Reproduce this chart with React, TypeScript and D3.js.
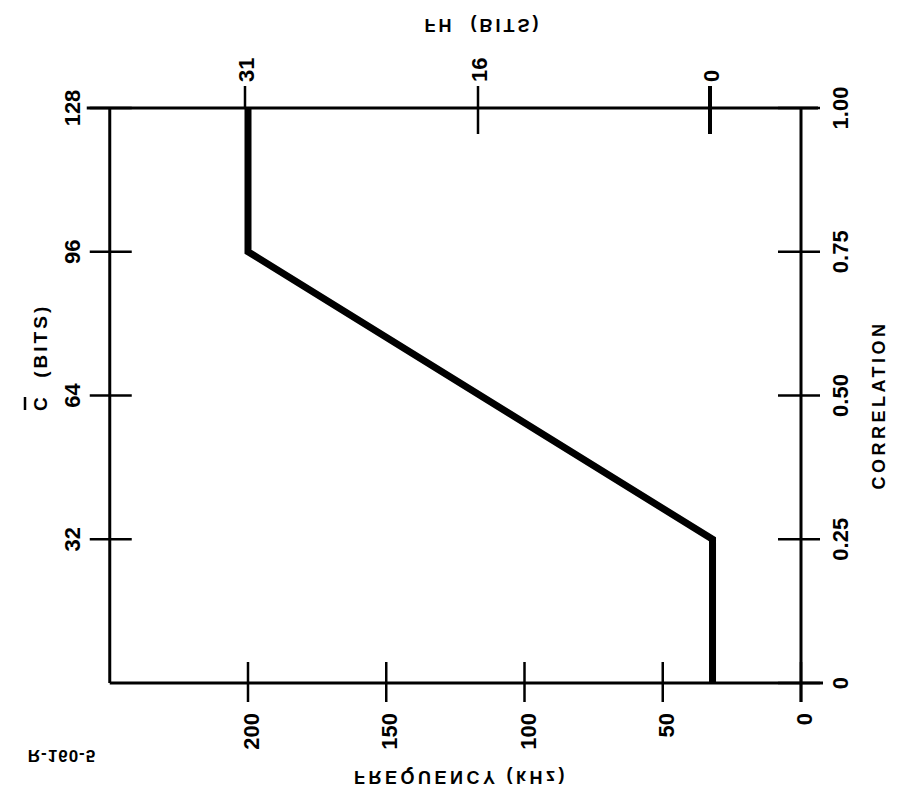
import React, { useEffect, useRef } from "react";
import * as d3 from "d3";

// chart values
const curveCorrelation = [0, 0.25, 0.75, 1.0];
const curveFrequency = [32, 32, 200, 200];

const freqTicks = [0, 50, 100, 150, 200];
const corrTicks = [0, 0.25, 0.5, 0.75, 1.0];
const corrTickLabels = ["0", "0.25", "0.50", "0.75", "1.00"];
const cBitTicks = [32, 64, 96, 128];
const fhTicks = [0, 16, 31];

const FONT = "'Liberation Sans', Arial, Helvetica, sans-serif";

const drawChart = (svgEl: SVGSVGElement) => {
  const svg = d3.select(svgEl);
  svg.selectAll("*").remove();

  // frequency runs right-to-left, correlation bottom-to-top
  const xFreq = d3.scaleLinear().domain([0, 200]).range([801, 248]);
  const yCorr = d3.scaleLinear().domain([0, 1]).range([683, 108]);
  const yBits = d3.scaleLinear().domain([0, 128]).range([683, 108]);
  const xFh = d3.scaleLinear().domain([0, 16, 31]).range([710, 478, 245]);

  const left = xFreq(250);
  const right = xFreq(0);
  const top = yCorr(1);
  const bottom = yCorr(0);

  const g = svg.append("g").attr("stroke", "#000").attr("fill", "none");

  // frame
  g.append("line").attr("x1", left).attr("x2", left).attr("y1", top).attr("y2", bottom).attr("stroke-width", 3);
  g.append("line").attr("x1", left - 23).attr("x2", right + 17).attr("y1", top).attr("y2", top).attr("stroke-width", 3);
  g.append("line").attr("x1", right).attr("x2", right).attr("y1", top).attr("y2", bottom + 19).attr("stroke-width", 3);
  g.append("line").attr("x1", left).attr("x2", right + 22).attr("y1", bottom).attr("y2", bottom).attr("stroke-width", 3);

  // left ticks (C bits)
  g.selectAll("line.cbit")
    .data(cBitTicks)
    .enter()
    .append("line")
    .attr("class", "cbit")
    .attr("x1", left - 20)
    .attr("x2", left + 22)
    .attr("y1", (d) => yBits(d))
    .attr("y2", (d) => yBits(d))
    .attr("stroke-width", 2.5);

  // right ticks (correlation)
  g.selectAll("line.corr")
    .data(corrTicks)
    .enter()
    .append("line")
    .attr("class", "corr")
    .attr("x1", right - 23)
    .attr("x2", right + 19)
    .attr("y1", (d) => yCorr(d))
    .attr("y2", (d) => yCorr(d))
    .attr("stroke-width", 2.5);

  // bottom ticks (frequency)
  g.selectAll("line.freq")
    .data(freqTicks)
    .enter()
    .append("line")
    .attr("class", "freq")
    .attr("x1", (d) => xFreq(d))
    .attr("x2", (d) => xFreq(d))
    .attr("y1", bottom - 21)
    .attr("y2", bottom + 19)
    .attr("stroke-width", 2.5);

  // top ticks (FH bits)
  g.selectAll("line.fh")
    .data(fhTicks)
    .enter()
    .append("line")
    .attr("class", "fh")
    .attr("x1", (d) => xFh(d))
    .attr("x2", (d) => xFh(d))
    .attr("y1", top - 22)
    .attr("y2", (d) => (d === 31 ? top : top + 26))
    .attr("stroke-width", (d) => (d === 0 ? 4 : 2.5));

  // the curve
  const line = d3
    .line<number>()
    .x((d, i) => xFreq(curveFrequency[i]))
    .y((d) => yCorr(d));

  g.append("path")
    .datum(curveCorrelation)
    .attr("d", line)
    .attr("stroke-width", 7)
    .attr("stroke-linejoin", "miter");

  // bar over the C of the left title
  g.append("line").attr("x1", 25).attr("x2", 25).attr("y1", 397).attr("y2", 410).attr("stroke-width", 2.5);

  const t = svg
    .append("g")
    .attr("fill", "#000")
    .style("font-family", FONT)
    .style("font-weight", "bold");

  // rotated tick labels, reading bottom to top
  t.selectAll("text.cbit")
    .data(cBitTicks)
    .enter()
    .append("text")
    .attr("class", "cbit")
    .attr("transform", (d) => `translate(80, ${yBits(d)}) rotate(-90)`)
    .attr("text-anchor", "middle")
    .style("font-size", "22px")
    .text((d) => d);

  t.selectAll("text.corr")
    .data(corrTicks)
    .enter()
    .append("text")
    .attr("class", "corr")
    .attr("transform", (d) => `translate(848, ${yCorr(d)}) rotate(-90)`)
    .attr("text-anchor", "middle")
    .style("font-size", "22px")
    .text((d, i) => corrTickLabels[i]);

  t.selectAll("text.freq")
    .data(freqTicks)
    .enter()
    .append("text")
    .attr("class", "freq")
    .attr("transform", (d) => `translate(${xFreq(d) + 11}, 713) rotate(-90)`)
    .attr("text-anchor", "end")
    .style("font-size", "22px")
    .text((d) => d);

  t.selectAll("text.fh")
    .data(fhTicks)
    .enter()
    .append("text")
    .attr("class", "fh")
    .attr("transform", (d) => `translate(${xFh(d) + 9}, 82) rotate(-90)`)
    .attr("text-anchor", "start")
    .style("font-size", "22px")
    .text((d) => d);

  // axis titles
  t.append("text")
    .attr("transform", "translate(885, 405) rotate(-90)")
    .attr("text-anchor", "middle")
    .style("font-size", "18px")
    .style("letter-spacing", "3.5px")
    .text("CORRELATION");

  t.append("text")
    .attr("transform", "translate(47, 411) rotate(-90)")
    .attr("text-anchor", "start")
    .style("font-size", "19px")
    .style("letter-spacing", "3px")
    .style("white-space", "pre")
    .text("C  (BITS)");

  // mirrored titles (upside down in the scan)
  t.append("text")
    .attr("transform", "translate(461, 771) scale(1,-1)")
    .attr("text-anchor", "middle")
    .style("font-size", "18px")
    .style("letter-spacing", "3.5px")
    .text("FREQUENCY (kHz)");

  t.append("text")
    .attr("transform", "translate(483, 19) scale(1,-1)")
    .attr("text-anchor", "middle")
    .style("font-size", "18px")
    .style("letter-spacing", "3px")
    .style("white-space", "pre")
    .text("FH  (BITS)");

  t.append("text")
    .attr("transform", "translate(62, 750) scale(1,-1)")
    .attr("text-anchor", "middle")
    .style("font-size", "17px")
    .style("letter-spacing", "1px")
    .text("R-160-5");
};

const App = () => {
  const svgRef = useRef<SVGSVGElement>(null);

  useEffect(() => {
    if (svgRef.current) drawChart(svgRef.current);
  }, []);

  return (
    <svg
      ref={svgRef}
      width="900"
      height="802"
      style={{ position: "absolute", left: 0, top: 0, background: "#fff" }}
    ></svg>
  );
};

export default App;
